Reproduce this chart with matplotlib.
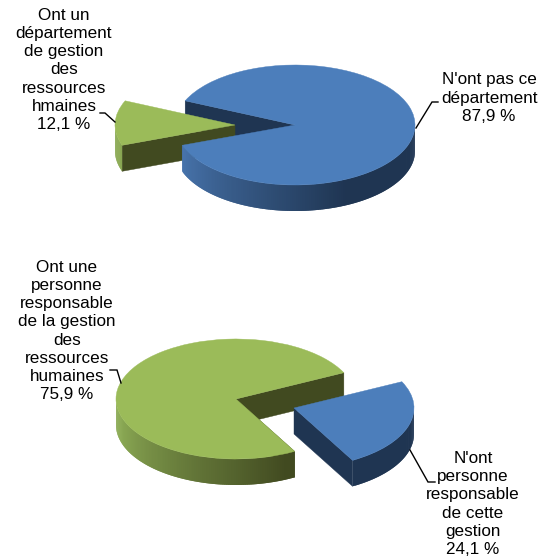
import numpy as np
import matplotlib
matplotlib.use('Agg')
import matplotlib.pyplot as plt
from matplotlib.patches import Wedge
from matplotlib.transforms import Affine2D

plt.rcParams['font.family'] = ['Liberation Sans', 'DejaVu Sans']

# first pie
dept_values = [87.9, 12.1]
dept_labels = ["N'ont pas ce\ndépartement\n87,9 %",
               "Ont un\ndépartement\nde gestion\ndes\nressources\nhmaines\n12,1 %"]
# second pie
resp_values = [75.9, 24.1]
resp_labels = ["Ont une\npersonne\nresponsable\nde la gestion\ndes\nressources\nhumaines\n75,9 %",
               "N'ont\npersonne\nresponsable\nde cette\ngestion\n24,1 %"]

BLUE = ('#4c7ebb', '#4a78b2', '#1f3552')
GREEN = ('#9bbb59', '#8cab55', '#414a20')
RX, RY, DEPTH = 120, 60, 26


def pt(cx, cy, a):
    # a in degrees, counter clockwise on screen, y axis is inverted
    a = np.radians(a)
    return cx + RX * np.cos(a), cy - RY * np.sin(a)


def rim(ax, cx, cy, a1, a2, colors, z):
    top, light, dark = colors
    light = np.array(matplotlib.colors.to_rgb(light))
    dark = np.array(matplotlib.colors.to_rgb(dark))
    for a in np.arange(a1, a2, 1.0):
        # pieces overlap a little so no seams show
        b = min(a + 2.0, a2)
        m = (a + 0.5) % 360
        if not 180 <= m <= 360:
            continue
        t = np.clip((m - 195) / 100, 0, 1)
        c = light * (1 - t) + dark * t
        x1, y1 = pt(cx, cy, a)
        x2, y2 = pt(cx, cy, b)
        ax.fill([x1, x2, x2, x1], [y1, y2, y2 + DEPTH, y1 + DEPTH], color=c, lw=0, zorder=z)


def wall(ax, cx, cy, a, color, z):
    x, y = pt(cx, cy, a)
    ax.fill([cx, x, x, cx], [cy, y, y + DEPTH, cy + DEPTH], color=color, lw=0.3, zorder=z)


def top(ax, cx, cy, a1, a2, color, z):
    tr = Affine2D().scale(RX, -RY).translate(cx, cy) + ax.transData
    ax.add_patch(Wedge((0, 0), 1, a1, a2, transform=tr, fc=color, ec=color, lw=0.3, zorder=z))


def line(ax, xs, ys):
    ax.plot(xs, ys, color='black', lw=1.0, zorder=10, solid_joinstyle='miter')


fig = plt.figure(figsize=(5.48, 5.60), dpi=100)
ax = fig.add_axes([0, 0, 1, 1])
ax.set_xlim(0, 548)
ax.set_ylim(560, 0)
ax.axis('off')

# top pie: big blue slice, small green one pulled to the left
span = dept_values[1] * 3.6
a1, a2 = 178 - span / 2, 178 + span / 2
wall(ax, 295, 125, a1, BLUE[2], 1)
wall(ax, 235, 125, a2, GREEN[2], 2)
rim(ax, 235, 125, a1, a2, GREEN, 2)
top(ax, 235, 125, a1, a2, GREEN[0], 3)
rim(ax, 295, 125, a2, a1 + 360, BLUE, 4)
top(ax, 295, 125, a2, a1 + 360, BLUE[0], 5)

# bottom pie: green one with the blue slice pulled to the lower right
span = resp_values[1] * 3.6
b1, b2 = 26 - span, 26
wall(ax, 236, 399, b2, GREEN[2], 1)
rim(ax, 236, 399, b2, b1 + 360, GREEN, 2)
wall(ax, 236, 399, b1 + 360, GREEN[2], 1)
top(ax, 236, 399, b2, b1 + 360, GREEN[0], 3)
wall(ax, 294, 408, b1, BLUE[2], 4)
rim(ax, 294, 408, b1 + 360, b2 + 360, (BLUE[0], BLUE[2], BLUE[2]), 4)
top(ax, 294, 408, b1, b2, BLUE[0], 5)

kw = dict(ha='center', va='center', fontsize=12.3, linespacing=1.26, color='black')
ax.text(489, 98, dept_labels[0], **kw)
ax.text(64, 70, dept_labels[1], **kw)
ax.text(67, 331, resp_labels[0], **kw)
ax.text(473, 504, resp_labels[1], **kw)

line(ax, [100, 105, 115], [113, 113, 122])
line(ax, [416, 432, 438], [128, 102, 102])
line(ax, [110, 117, 121], [370, 370, 383])
line(ax, [410, 428, 435], [450, 482, 482])

fig.savefig('out.png', dpi=100)
